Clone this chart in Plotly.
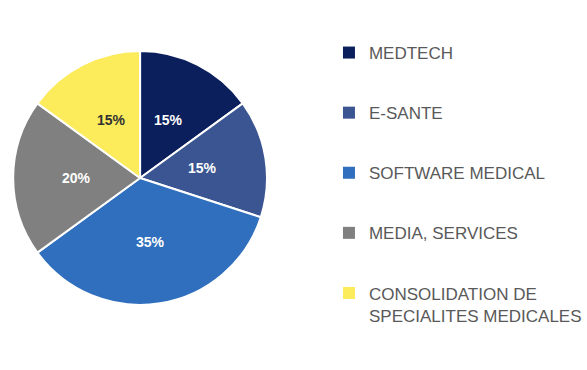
import math
import plotly.graph_objects as go

categories = ["MEDTECH", "E-SANTE", "SOFTWARE MEDICAL", "MEDIA, SERVICES", "CONSOLIDATION DE<br>SPECIALITES MEDICALES"]
values = [15, 15, 35, 20, 15]
colors = ["#0B1F5C", "#3A5592", "#2F6FBD", "#808080", "#FCEB5A"]
text_colors = ["white", "white", "white", "white", "#333333"]

W, H = 587, 370
pie_left, pie_right, pie_top, pie_bottom = 13.5, 273.5, 48, 308
label_r = 65  # px from centre, where percent labels sit

fig = go.Figure()
fig.add_trace(go.Pie(
    labels=categories, values=values, sort=False, direction="clockwise", rotation=0,
    marker=dict(colors=colors, line=dict(color="white", width=2)),
    textinfo="none", showlegend=False, hoverinfo="label+percent",
    domain=dict(x=[pie_left / W, pie_right / W], y=[1 - pie_bottom / H, 1 - pie_top / H]),
))

# percent labels placed at mid-angle of each slice
total = sum(values)
cx = (pie_left + pie_right) / 2
cy = (pie_top + pie_bottom) / 2
cum = 0
for v, tc in zip(values, text_colors):
    mid = (cum + v / 2) / total
    cum += v
    th = math.radians(90 - 360 * mid)
    px = cx + label_r * math.cos(th)
    py = cy - label_r * math.sin(th)
    fig.add_annotation(
        x=px / W, y=1 - py / H, xref="paper", yref="paper", showarrow=False,
        xanchor="center", yanchor="middle",
        text=f"{round(100 * v / total)}%",
        font=dict(family="Liberation Sans, Arial, sans-serif", size=14, color=tc, weight="bold"),
    )

for i, (c, col) in enumerate(zip(categories, colors)):
    fig.add_trace(go.Scatter(
        x=[None], y=[None], mode="markers", name=c, legendgroup=f"g{i}",
        marker=dict(symbol="square", size=11, color=col),
        showlegend=True,
    ))

fig.update_layout(
    width=W, height=H, margin=dict(l=0, r=0, t=0, b=0),
    paper_bgcolor="white", plot_bgcolor="white",
    xaxis=dict(visible=False), yaxis=dict(visible=False),
    legend=dict(x=337 / W, y=1 - 35 / H, xanchor="left", yanchor="top",
                font=dict(family="Liberation Sans, Arial, sans-serif", size=17, color="#595959"),
                tracegroupgap=35, valign="top", itemsizing="constant", bgcolor="rgba(0,0,0,0)"),
)
fig.write_html("out.html", config={"displayModeBar": False},
               post_script="document.body.style.margin='0';")
